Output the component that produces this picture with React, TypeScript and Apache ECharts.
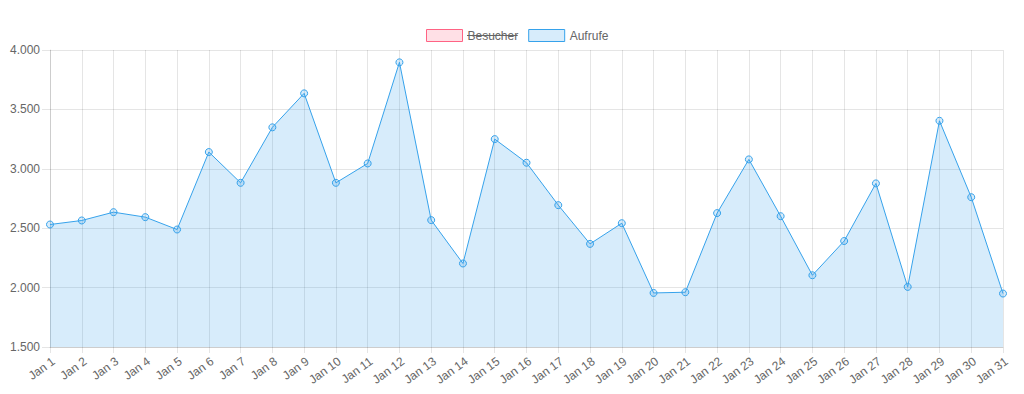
import React, { useEffect, useRef } from "react";
import * as echarts from "echarts";

const categories = [
  "Jan 1", "Jan 2", "Jan 3", "Jan 4", "Jan 5", "Jan 6", "Jan 7", "Jan 8", "Jan 9", "Jan 10",
  "Jan 11", "Jan 12", "Jan 13", "Jan 14", "Jan 15", "Jan 16", "Jan 17", "Jan 18", "Jan 19", "Jan 20",
  "Jan 21", "Jan 22", "Jan 23", "Jan 24", "Jan 25", "Jan 26", "Jan 27", "Jan 28", "Jan 29", "Jan 30", "Jan 31",
];

const aufrufe = [
  2531, 2565, 2635, 2593, 2489, 3141, 2882, 3349, 3635, 2882,
  3045, 3896, 2568, 2203, 3250, 3051, 2694, 2368, 2542, 1955,
  1961, 2627, 3079, 2601, 2104, 2392, 2877, 2006, 3404, 2761, 1950,
];

const besucher: number[] = [];

const yMin = 1500;
const yMax = 4000;
const yStep = 500;

const FONT = "'Liberation Sans', Helvetica, Arial, sans-serif";
const TEXT = "#666";
const GRID = "rgba(0,0,0,0.1)";

function fmt(v: number): string {
  return String(Math.round(v)).replace(/\B(?=(\d{3})+(?!\d))/g, ".");
}

function measure(text: string): number {
  const c = document.createElement("canvas").getContext("2d");
  if (!c) return 48;
  c.font = "12px 'Liberation Sans'";
  return c.measureText(text).width;
}

export default function App() {
  const ref = useRef<HTMLDivElement>(null);
  useEffect(() => {
    document.body.style.margin = "0";
    if (!ref.current) return;
    const chart = echarts.init(ref.current, undefined, { renderer: "svg" });
    const iconLeft = 426;
    const iconTop = 29;
    const textStart = iconLeft + 36 + 5;
    const w = measure("Besucher");
    chart.setOption({
      animation: false,
      backgroundColor: "#fff",
      textStyle: { fontFamily: FONT },
      legend: {
        left: iconLeft,
        top: iconTop,
        padding: 0,
        itemWidth: 36,
        itemHeight: 12,
        itemGap: 10,
        icon: "rect",
        textStyle: { color: TEXT, fontSize: 12, fontFamily: FONT },
        data: [
          {
            name: "Besucher",
            itemStyle: { color: "rgba(255,99,132,0.2)", borderColor: "rgb(255,99,132)", borderWidth: 1, opacity: 1 },
          },
          {
            name: "Aufrufe",
            itemStyle: { color: "rgba(54,162,235,0.2)", borderColor: "rgb(54,162,235)", borderWidth: 1, opacity: 1 },
          },
        ],
      },
      graphic: [
        {
          type: "rect",
          z: 100,
          zlevel: 1,
          shape: { x: textStart, y: iconTop + 6, width: w, height: 1 },
          style: { fill: TEXT },
        },
      ],
      grid: { left: 50, right: 21, top: 50, bottom: 47, containLabel: false },
      xAxis: {
        type: "category",
        data: categories,
        boundaryGap: false,
        axisLine: { show: true, lineStyle: { color: GRID } },
        axisTick: { show: true, length: 6, lineStyle: { color: GRID } },
        splitLine: { show: true, lineStyle: { color: GRID } },
        axisLabel: {
          color: TEXT,
          fontSize: 12,
          fontFamily: FONT,
          rotate: 36,
          interval: 0,
          margin: 8,
          align: "right",
          verticalAlign: "top",
        },
      },
      yAxis: {
        type: "value",
        min: yMin,
        max: yMax,
        interval: yStep,
        axisLine: { show: true, lineStyle: { color: GRID } },
        axisTick: { show: true, length: 8, lineStyle: { color: GRID } },
        splitLine: { show: true, lineStyle: { color: GRID } },
        axisLabel: {
          color: TEXT,
          fontSize: 12,
          fontFamily: FONT,
          margin: 10,
          formatter: (v: number) => fmt(v),
        },
      },
      series: [
        {
          name: "Besucher",
          type: "line",
          data: besucher,
          itemStyle: { color: "rgba(255,99,132,0.2)", borderColor: "rgb(255,99,132)" },
          lineStyle: { color: "rgb(255,99,132)", width: 1 },
        },
        {
          name: "Aufrufe",
          type: "line",
          data: aufrufe,
          symbol: "circle",
          symbolSize: 7,
          showSymbol: true,
          lineStyle: { color: "rgb(54,162,235)", width: 1 },
          itemStyle: { color: "rgba(54,162,235,0.2)", borderColor: "rgb(54,162,235)", borderWidth: 1, opacity: 1 },
          areaStyle: { color: "rgba(54,162,235,0.2)", origin: "start", opacity: 1 },
        },
      ],
    });
    return () => chart.dispose();
  }, []);
  return <div ref={ref} style={{ width: 1024, height: 394 }} />;
}
